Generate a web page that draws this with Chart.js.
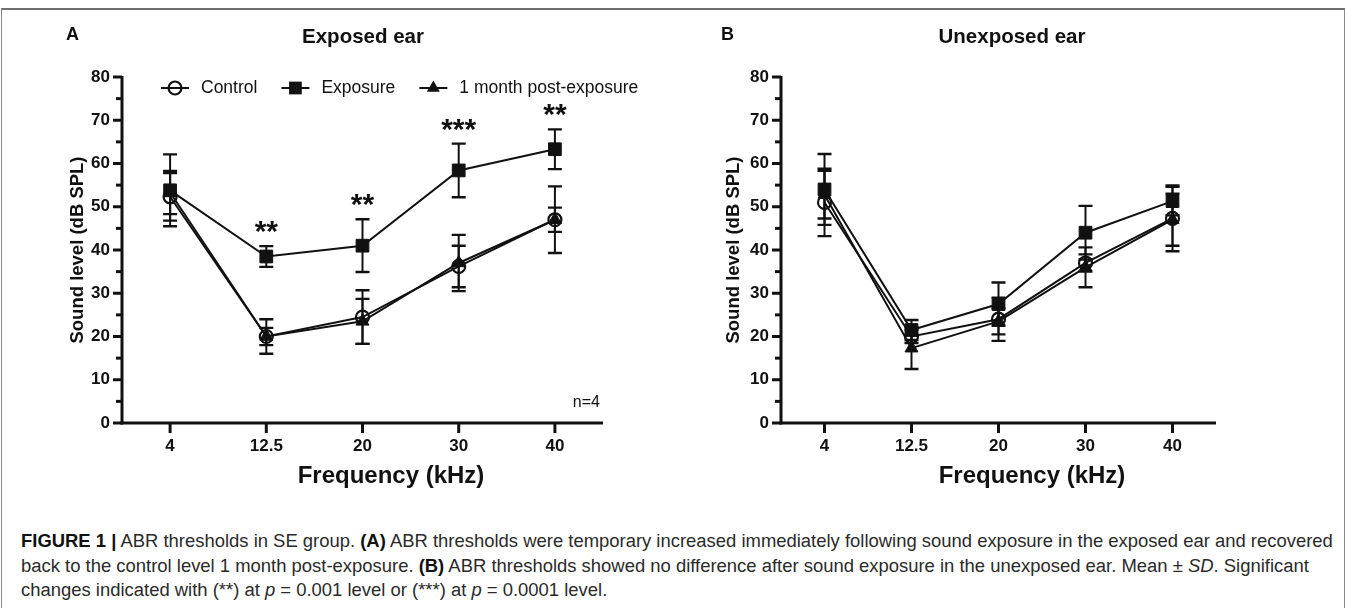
<!DOCTYPE html>
<html>
<head>
<meta charset="utf-8">
<script src="https://cdn.jsdelivr.net/npm/chart.js@4.4.1/dist/chart.umd.min.js"></script>
<style>
  html,body{margin:0;padding:0;background:#fff;}
  body{width:1357px;height:608px;overflow:hidden;position:relative;font-family:"Liberation Sans",Arial,sans-serif;}
  #frame{position:absolute;left:1px;top:8px;width:1344px;height:640px;border-left:1px solid #8a8a8a;border-right:1px solid #8a8a8a;border-top:2px solid #6f6f6f;box-sizing:border-box;}
  canvas{position:absolute;top:0;}
  #cA{left:0;}
  #cB{left:680px;}
  #cap{position:absolute;left:21px;top:529px;font-size:16px;line-height:24.5px;color:#2a2a2a;white-space:nowrap;}
  #cap b{color:#111;}
</style>
</head>
<body>
<div id="frame"></div>
<canvas id="cA" width="680" height="500"></canvas>
<canvas id="cB" width="677" height="500"></canvas>
<div id="cap">
<span class="ln" id="l1"><b>FIGURE 1 |</b> ABR thresholds in SE group. <b>(A)</b> ABR thresholds were temporary increased immediately following sound exposure in the exposed ear and recovered</span><br>
<span class="ln">back to the control level 1 month post-exposure. <b>(B)</b> ABR thresholds showed no difference after sound exposure in the unexposed ear. Mean ± <i>SD</i>. Significant</span><br>
<span class="ln">changes indicated with (**) at <i>p</i> = 0.001 level or (***) at <i>p</i> = 0.0001 level.</span>
</div>
<script>
// ---------- DATA ----------
const categories = ['4', '12.5', '20', '30', '40'];
const yTickMin = 0, yTickMax = 80, yTickStep = 10;

// Panel A: exposed ear
const controlA    = [52.3, 20.0, 24.5, 36.2, 47.0];
const controlA_sd = [5.5, 4.0, 6.2, 4.8, 7.7];
const exposureA    = [53.8, 38.5, 41.0, 58.4, 63.3];
const exposureA_sd = [8.3, 2.4, 6.1, 6.2, 4.6];
const postA    = [53.3, 20.0, 23.5, 37.0, 47.0];
const postA_sd = [5.0, 2.0, 5.2, 6.5, 2.8];
const starsA = ['', '**', '**', '***', '**'];

// Panel B: unexposed ear
const controlB    = [51.0, 20.0, 24.0, 37.0, 47.3];
const controlB_sd = [7.8, 1.5, 5.0, 2.0, 7.6];
const exposureB    = [54.0, 21.5, 27.5, 44.0, 51.3];
const exposureB_sd = [8.2, 2.3, 5.0, 6.2, 3.3];
const postB    = [52.8, 17.3, 23.5, 36.0, 47.0];
const postB_sd = [5.5, 4.8, 3.0, 4.6, 6.0];

const seriesNames = ['Control', 'Exposure', '1 month post-exposure'];

// ---------- RENDER ----------
const FONT = '"Liberation Sans", Arial, sans-serif';
const INK = '#111';

// fit caption width
(function(){
  const l1 = document.getElementById('l1');
  const cap = document.getElementById('cap');
  const target = 1312;
  const w = l1.getBoundingClientRect().width;
  cap.style.fontSize = (16 * target / w).toFixed(2) + 'px';
})();

function buildDatasets(ctrl, ctrlSd, exp, expSd, post, postSd) {
  return [
    { label: seriesNames[1], data: exp, sd: expSd, borderColor: INK, backgroundColor: INK,
      borderWidth: 2, pointStyle: 'rect', pointRadius: 9, pointHoverRadius: 9,
      pointBackgroundColor: INK, pointBorderColor: INK, pointBorderWidth: 1, tension: 0 },
    { label: seriesNames[0], data: ctrl, sd: ctrlSd, borderColor: INK, backgroundColor: 'rgba(0,0,0,0)',
      borderWidth: 2, pointStyle: 'circle', pointRadius: 6.5, pointHoverRadius: 6.5,
      pointBackgroundColor: 'rgba(0,0,0,0)', pointBorderColor: INK, pointBorderWidth: 2.2, tension: 0 },
    { label: seriesNames[2], data: post, sd: postSd, borderColor: INK, backgroundColor: INK,
      borderWidth: 2, pointStyle: 'triangle', pointRadius: 7.5, pointHoverRadius: 7.5,
      pointBackgroundColor: INK, pointBorderColor: INK, pointBorderWidth: 1, tension: 0 }
  ];
}

const errorBars = {
  id: 'errorBars',
  beforeDatasetsDraw(chart) {
    const ctx = chart.ctx, y = chart.scales.y;
    ctx.save();
    ctx.strokeStyle = INK;
    chart.data.datasets.forEach((ds, di) => {
      const meta = chart.getDatasetMeta(di);
      ds.data.forEach((v, i) => {
        const x = meta.data[i].x;
        const t = y.getPixelForValue(v + ds.sd[i]);
        const b = y.getPixelForValue(v - ds.sd[i]);
        ctx.lineWidth = 2;
        ctx.beginPath(); ctx.moveTo(x, t); ctx.lineTo(x, b); ctx.stroke();
        ctx.lineWidth = 2.4;
        ctx.beginPath();
        ctx.moveTo(x - 7, t); ctx.lineTo(x + 7, t);
        ctx.moveTo(x - 7, b); ctx.lineTo(x + 7, b);
        ctx.stroke();
      });
    });
    ctx.restore();
  }
};

function legendMarker(ctx, style, r, bw, x, y) {
  ctx.save();
  ctx.strokeStyle = INK; ctx.fillStyle = INK;
  ctx.beginPath();
  if (style === 'circle') {
    ctx.lineWidth = bw;
    ctx.arc(x, y, r, 0, Math.PI * 2); ctx.stroke();
  } else if (style === 'rect') {
    const h = r / Math.SQRT2; ctx.fillRect(x - h, y - h, 2 * h, 2 * h);
  } else {
    const c = Math.cos(Math.PI / 6) * r, s = Math.sin(Math.PI / 6) * r;
    ctx.moveTo(x, y - r); ctx.lineTo(x + c, y + s); ctx.lineTo(x - c, y + s);
    ctx.closePath(); ctx.fill();
  }
  ctx.restore();
}

const decor = {
  id: 'decor',
  afterDraw(chart, args, o) {
    const ctx = chart.ctx, xs = chart.scales.x, ys = chart.scales.y, a = chart.chartArea;
    ctx.save();
    ctx.strokeStyle = INK; ctx.fillStyle = INK; ctx.lineCap = 'butt';
    // axes
    ctx.lineWidth = 3;
    const yTop = ys.getPixelForValue(yTickMax);
    const y0 = ys.getPixelForValue(yTickMin);
    ctx.beginPath(); ctx.moveTo(a.left, yTop - 1); ctx.lineTo(a.left, y0 + 1.5); ctx.stroke();
    ctx.beginPath(); ctx.moveTo(a.left - 1.5, y0); ctx.lineTo(a.right, y0); ctx.stroke();
    // y ticks (major 10, minor 5)
    for (let v = yTickMin; v <= yTickMax; v += yTickStep / 2) {
      const py = ys.getPixelForValue(v);
      const len = (v % yTickStep === 0) ? 9 : 6;
      ctx.beginPath(); ctx.moveTo(a.left - len, py); ctx.lineTo(a.left, py); ctx.stroke();
    }
    // x ticks
    categories.forEach((c, i) => {
      const px = xs.getPixelForValue(i);
      ctx.beginPath(); ctx.moveTo(px, y0); ctx.lineTo(px, y0 + 10); ctx.stroke();
    });
    // panel letter
    ctx.textAlign = 'left'; ctx.textBaseline = 'middle';
    ctx.font = 'bold 18px ' + FONT;
    ctx.fillText(o.letter, o.letterX, 35);
    // title
    ctx.textAlign = 'center';
    ctx.font = 'bold 20.5px ' + FONT;
    ctx.fillText(o.title, o.titleX, 37);
    // x title
    ctx.font = 'bold 24px ' + FONT;
    ctx.fillText('Frequency (kHz)', o.xTitleX, 476);
    // y title
    ctx.save();
    ctx.translate(o.yTitleX, (yTop + y0) / 2);
    ctx.rotate(-Math.PI / 2);
    ctx.font = 'bold 18.5px ' + FONT;
    ctx.fillText('Sound level (dB SPL)', 0, 0);
    ctx.restore();
    // stars
    if (o.stars) {
      const exp = chart.data.datasets[0];
      const meta = chart.getDatasetMeta(0);
      ctx.font = 'bold 30px ' + FONT;
      ctx.textBaseline = 'alphabetic';
      o.stars.forEach((s, i) => {
        if (!s) return;
        const t = ys.getPixelForValue(exp.data[i] + exp.sd[i]);
        ctx.fillText(s, meta.data[i].x, t - 5);
      });
    }
    // n=4
    if (o.nText) {
      ctx.font = '16px ' + FONT;
      ctx.textAlign = 'right'; ctx.textBaseline = 'middle';
      ctx.fillText(o.nText, a.right - 3, 403);
    }
    // legend
    if (o.legend) {
      ctx.font = '17.5px ' + FONT;
      ctx.textBaseline = 'middle'; ctx.textAlign = 'left';
      const ly = 88;
      let lx = o.legendX;
      [1, 0, 2].forEach(di => {
        const ds = chart.data.datasets[di];
        ctx.lineWidth = 2; ctx.strokeStyle = INK;
        ctx.beginPath(); ctx.moveTo(lx, ly); ctx.lineTo(lx + 28, ly); ctx.stroke();
        legendMarker(ctx, ds.pointStyle, ds.pointRadius, ds.pointBorderWidth, lx + 14, ly);
        ctx.fillStyle = INK;
        ctx.fillText(ds.label, lx + 28 + 12, ly);
        lx += 28 + 12 + ctx.measureText(ds.label).width + 24;
      });
    }
    ctx.restore();
  }
};

function makeChart(id, cfg) {
  const canvas = document.getElementById(id);
  const W = canvas.width, H = canvas.height;
  const AX_W = 60, AX_H = 60;
  return new Chart(canvas, {
    type: 'line',
    data: { labels: categories, datasets: buildDatasets(...cfg.data) },
    options: {
      responsive: false, animation: false, devicePixelRatio: 1,
      layout: { padding: { left: cfg.left - AX_W, right: W - cfg.right, top: 77, bottom: H - 423 - AX_H } },
      plugins: { legend: { display: false }, tooltip: { enabled: false }, decor: cfg.decor },
      scales: {
        x: {
          type: 'category', offset: true,
          grid: { display: false, drawTicks: false }, border: { display: false },
          ticks: { color: INK, font: { family: FONT, size: 17, weight: 'bold' }, padding: 13, maxRotation: 0, autoSkip: false },
          afterFit(s) { s.height = AX_H; }
        },
        y: {
          min: yTickMin, max: yTickMax,
          grid: { display: false, drawTicks: false }, border: { display: false },
          ticks: { stepSize: yTickStep, color: INK, font: { family: FONT, size: 17, weight: 'bold' }, padding: 12 },
          afterFit(s) { s.width = AX_W; }
        }
      }
    },
    plugins: [errorBars, decor]
  });
}

makeChart('cA', {
  left: 122, right: 603,
  data: [controlA, controlA_sd, exposureA, exposureA_sd, postA, postA_sd],
  decor: { letter: 'A', letterX: 66, title: 'Exposed ear', titleX: 363, xTitleX: 391, yTitleX: 78,
           stars: starsA, nText: 'n=4', legend: true, legendX: 161 }
});
makeChart('cB', {
  left: 781 - 680, right: 1216 - 680,
  data: [controlB, controlB_sd, exposureB, exposureB_sd, postB, postB_sd],
  decor: { letter: 'B', letterX: 721 - 680, title: 'Unexposed ear', titleX: 1012 - 680, xTitleX: 1032 - 680, yTitleX: 734 - 680,
           stars: null, nText: null, legend: false }
});
</script>
</body>
</html>
